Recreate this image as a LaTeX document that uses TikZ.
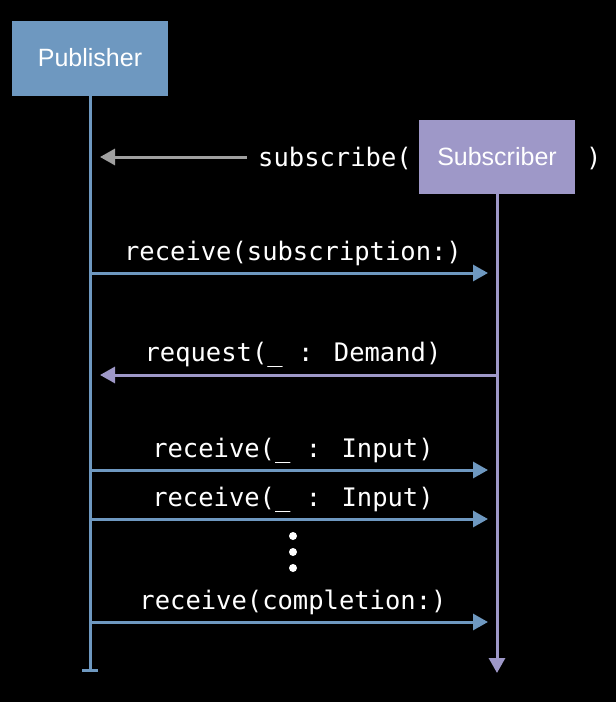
\documentclass[tikz,border=0pt]{standalone}
\usepackage{fontspec}
\usetikzlibrary{arrows.meta}
\newfontfamily\boxfont{Liberation Sans}
\newfontfamily\codefont{DejaVu Sans Mono}
\definecolor{pubblue}{RGB}{110,152,192}
\definecolor{subpurple}{RGB}{158,152,200}
\definecolor{callgray}{RGB}{160,160,160}

\begin{document}
\begin{tikzpicture}[x=1pt,y=-1pt,
    actor/.style={minimum width=156pt,minimum height=75pt,inner sep=0pt,text=white,
        font=\boxfont\fontsize{25}{30}\selectfont},
    msg/.style={anchor=base,inner sep=0pt,text=white,font=\codefont\fontsize{25.5}{30}\selectfont},
    pubarrow/.style={pubblue,line width=3pt,-{Triangle[length=15pt,width=16pt]}},
    subarrow/.style={subpurple,line width=3pt,-{Triangle[length=15pt,width=16pt]}}]
        \fill[black] (0,0) rectangle (616,702);
        \useasboundingbox (0,0) rectangle (616,702);

        \node[actor,fill=pubblue] (pub) at (90,58) {Publisher};
        \node[actor,fill=subpurple,minimum height=74pt] (sub) at (497,157) {Subscriber};

        % lifelines
        \coordinate (pubend) at (90,672);
        \coordinate (subend) at (497,673);
        \draw[pubblue,line width=3pt,-{Bar[width=16pt]}] (pub.south) -- (pubend);
        \draw[subarrow] (sub.south) -- (subend);

        % subscribe call
        \node[msg,anchor=base west] (subscribe) at (258,166) {subscribe(};
        \node[msg,anchor=base west] (close) at (586,166) {)};
        \coordinate (callout) at (247,157);
        \coordinate (callin) at (100,157);
        \draw[callgray,line width=3pt,-{Triangle[length=15pt,width=16pt]}] (callout) -- (callin);

        \node[msg] (recvsub) at (293,260) {receive(subscription:)};
        \coordinate (recvsuba) at (90,273);
        \coordinate (recvsubb) at (488,273);
        \draw[pubarrow] (recvsuba) -- (recvsubb);

        \node[msg] (request) at (293,361) {request(\_ : Demand)};
        \coordinate (requesta) at (497,375);
        \coordinate (requestb) at (100,375);
        \draw[subarrow] (requesta) -- (requestb);

        \node[msg] (input1) at (293,457) {receive(\_ : Input)};
        \coordinate (input1a) at (90,470);
        \coordinate (input1b) at (488,470);
        \draw[pubarrow] (input1a) -- (input1b);

        \node[msg] (input2) at (293,506) {receive(\_ : Input)};
        \coordinate (input2a) at (90,519);
        \coordinate (input2b) at (488,519);
        \draw[pubarrow] (input2a) -- (input2b);

        \fill[white] (293,536) circle (4pt);
        \fill[white] (293,552) circle (4pt);
        \fill[white] (293,568) circle (4pt);

        \node[msg] (done) at (293,609) {receive(completion:)};
        \coordinate (donea) at (90,622);
        \coordinate (doneb) at (488,622);
        \draw[pubarrow] (donea) -- (doneb);
    \end{tikzpicture}
\end{document}
